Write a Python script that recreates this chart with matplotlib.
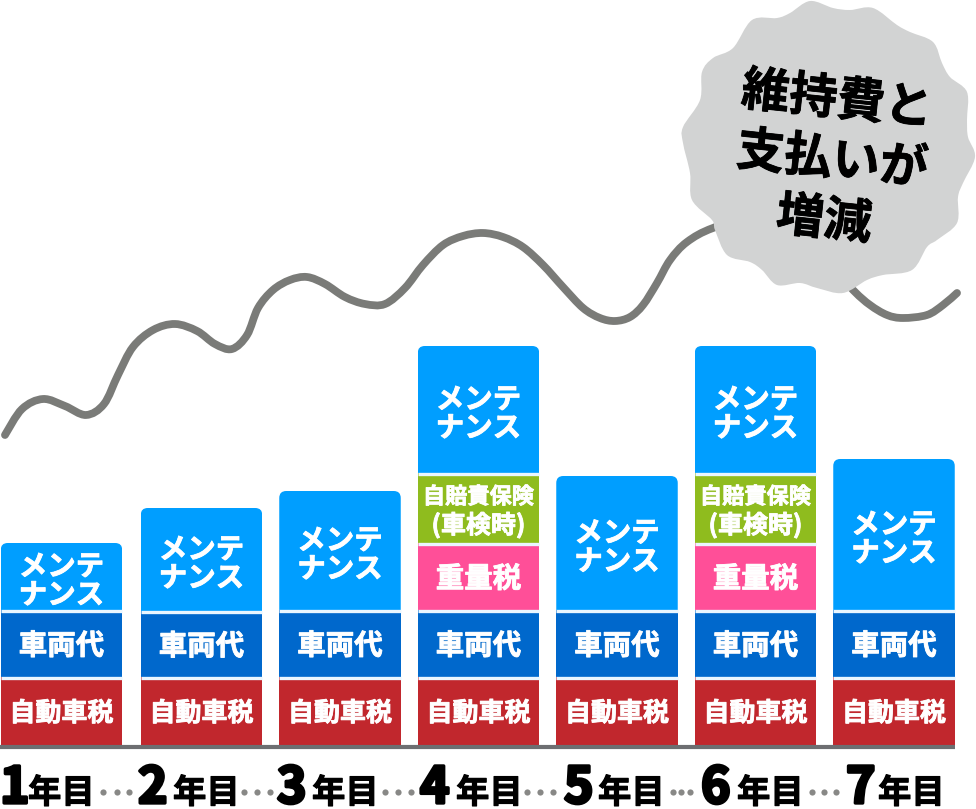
import numpy as np
import matplotlib
matplotlib.use('Agg')
import matplotlib.pyplot as plt
from matplotlib.patches import FancyBboxPatch, PathPatch
from matplotlib.path import Path
import matplotlib.patheffects as pe

plt.rcParams['font.family'] = ['Noto Sans CJK JP', 'DejaVu Sans']

# stacked values, bottom to top
years = ['1', '2', '3', '4', '5', '6', '7']
tax = [69, 69, 69, 69, 69, 69, 69]
vehicle = [67, 66, 67, 67, 67, 67, 67]
weight_tax = [0, 0, 0, 67, 0, 67, 0]
insurance = [0, 0, 0, 70, 0, 70, 0]
maintenance = [67, 103, 119, 127, 134, 127, 151]

# wavy line behind the bars (year position, height above the base line)
trend_x = [-0.419, -0.296, -0.144, 0.014, 0.166, 0.296, 0.397, 0.505, 0.650, 0.809, 0.968, 1.097,
           1.220, 1.329, 1.408, 1.516, 1.639, 1.762, 1.892, 2.036, 2.180, 2.325, 2.469, 2.599,
           2.744, 2.888, 3.032, 3.177, 3.321, 3.466, 3.610, 3.755, 3.877, 3.986, 4.094, 4.188,
           4.289, 4.383, 4.505, 4.693, 5.032, 5.430, 5.704, 5.827, 5.950, 6.065, 6.238, 6.354, 6.455]
trend_y = [311, 337, 347, 340, 331, 342, 371, 399, 416, 422, 415, 402,
           397, 411, 438, 456, 466, 469, 462, 449, 442, 442, 458, 481,
           501, 510, 513, 509, 499, 481, 459, 438, 428, 425, 429, 441,
           463, 486, 504, 518, 531, 496, 456, 441, 431, 428, 431, 441, 453]

# outline of the badge, read clockwise in pixels
badge_x = [810, 833, 850, 873, 897, 910, 933, 942, 950, 967, 967, 968, 975, 963, 958,
           957, 937, 927, 912, 883, 867, 843, 817, 800, 777, 762, 750, 727, 715, 712,
           692, 690, 683, 683, 700, 702, 713, 733, 752, 777, 790]
badge_y = [1, 8, 10, 8, 25, 32, 42, 63, 77, 92, 120, 137, 157, 183, 197,
           223, 240, 247, 270, 275, 280, 293, 288, 283, 285, 270, 262, 255, 230, 220,
           200, 173, 143, 127, 100, 72, 58, 48, 20, 18, 13]
badge_lines = ['維持費と', '支払いが', '増減']

COL_TAX = '#C1272D'
COL_VEHICLE = '#0068CC'
COL_WEIGHT = '#FF4F98'
COL_INSURANCE = '#8FBC1E'
COL_MAINT = '#009EFF'
COL_GRAY = '#7A7B78'


def smooth_path(x, y, closed=False):
    # catmull-rom through the read points, as bezier segments
    pts = np.column_stack([x, y]).astype(float)
    n = len(pts)
    if closed:
        get = lambda i: pts[i % n]
        count = n
    else:
        get = lambda i: pts[min(max(i, 0), n - 1)]
        count = n - 1
    verts = [pts[0]]
    codes = [Path.MOVETO]
    for i in range(count):
        p0, p1, p2, p3 = get(i - 1), get(i), get(i + 1), get(i + 2)
        verts += [p1 + (p2 - p0) / 6, p2 - (p3 - p1) / 6, p2]
        codes += [Path.CURVE4] * 3
    return Path(verts, codes)


fig = plt.figure(figsize=(9.76, 8.09), dpi=100)
ax = fig.add_axes([0, 0, 1, 1])
step = 138.5
bar_w = 121.5 / step
ax.set_xlim(-63 / step, (976 - 63) / step)
ax.set_ylim(-63, 746)
ax.axis('off')

# first bar sits a little closer to the edge
x = np.arange(len(years), dtype=float)
x[0] = -0.011

# values, colour, [(label, font size, shift from the middle of the piece)]
segments = [
    (tax, COL_TAX, [('自動車税', 18.7, -2)]),
    (vehicle, COL_VEHICLE, [('車両代', 20.5, -3)]),
    (weight_tax, COL_WEIGHT, [('重量税', 20.5, -3)]),
    (insurance, COL_INSURANCE, [('自賠責保険', 16, 11), ('(車検時)', 18, -17)]),
    (maintenance, COL_MAINT, [('メンテ\nナンス', 20.5, -5)]),
]

bottom = np.zeros(len(years))
for values, color, labels in segments:
    values = np.array(values)
    show = values > 0
    bars = ax.bar(x[show], values[show], bar_w, bottom=bottom[show], color=color, linewidth=0, zorder=2)
    # only the top piece has round corners
    if color == COL_MAINT:
        for bar in bars:
            clip = FancyBboxPatch((bar.get_x(), bar.get_y() - 20), bar.get_width(), bar.get_height() + 20,
                                  boxstyle='round,pad=0,rounding_size=%f' % (7 / step),
                                  mutation_aspect=step, transform=ax.transData)
            bar.set_clip_path(clip)
    for i in np.where(show)[0]:
        for label, size, shift in labels:
            ax.text(x[i], bottom[i] + values[i] / 2 + shift, label, color='white', fontsize=size, fontweight='bold',
                    ha='center', va='center', linespacing=1.02, zorder=4,
                    path_effects=[pe.withStroke(linewidth=0.6, foreground='white')])
    bottom = bottom + values
    # thin light line between the pieces
    if color != COL_MAINT:
        ax.hlines(bottom[show] - 1, x[show] - bar_w / 2, x[show] + bar_w / 2, color='#EAF6FF', linewidth=2.4, zorder=3)

# base line
ax.plot([-63 / step, 6 + bar_w / 2], [-1, -1], color='#6D6E71', linewidth=3, solid_capstyle='butt', zorder=3)

# wavy line
ax.add_patch(PathPatch(smooth_path(trend_x, trend_y), fill=False, edgecolor=COL_GRAY, linewidth=5.6,
                       capstyle='round', joinstyle='round', zorder=1))

# overlay in pixels for the badge and the labels under the bars
top = fig.add_axes([0, 0, 1, 1], facecolor='none')
top.set_xlim(0, 976)
top.set_ylim(809, 0)
top.axis('off')

top.add_patch(PathPatch(smooth_path(badge_x, badge_y, closed=True), facecolor='#D2D3D3', edgecolor='none', zorder=5))
for line, cx, cy in zip(badge_lines, [837, 832, 824], [100, 160, 220]):
    top.text(cx, cy, line, fontsize=34.5, fontweight='bold', color='black', rotation=-6,
             rotation_mode='anchor', ha='center', va='center', zorder=6,
             path_effects=[pe.withStroke(linewidth=0.6, foreground='black')])

# year labels: big digit + small 年目
digit_left = [0, 138, 277, 420, 564, 701, 846]
kanji_left = [28, 173, 312, 456, 598, 737, 878]
for year, dx, kx in zip(years, digit_left, kanji_left):
    top.text(dx, 803, year, fontsize=36, fontweight='bold', color='black', ha='left', va='baseline',
             path_effects=[pe.withStroke(linewidth=2.4, foreground='black')])
    top.text(kx, 803, '年目', fontsize=24, fontweight='bold', color='black', ha='left', va='baseline',
             path_effects=[pe.withStroke(linewidth=0.8, foreground='black')])

dots_x = [103, 117, 129, 244, 257, 270, 385, 398, 411, 527, 540, 553, 673, 681, 690, 812, 824, 836]
top.scatter(dots_x, [792] * len(dots_x), s=20, color='#888886', linewidths=0)

fig.savefig('out.png', dpi=100)
